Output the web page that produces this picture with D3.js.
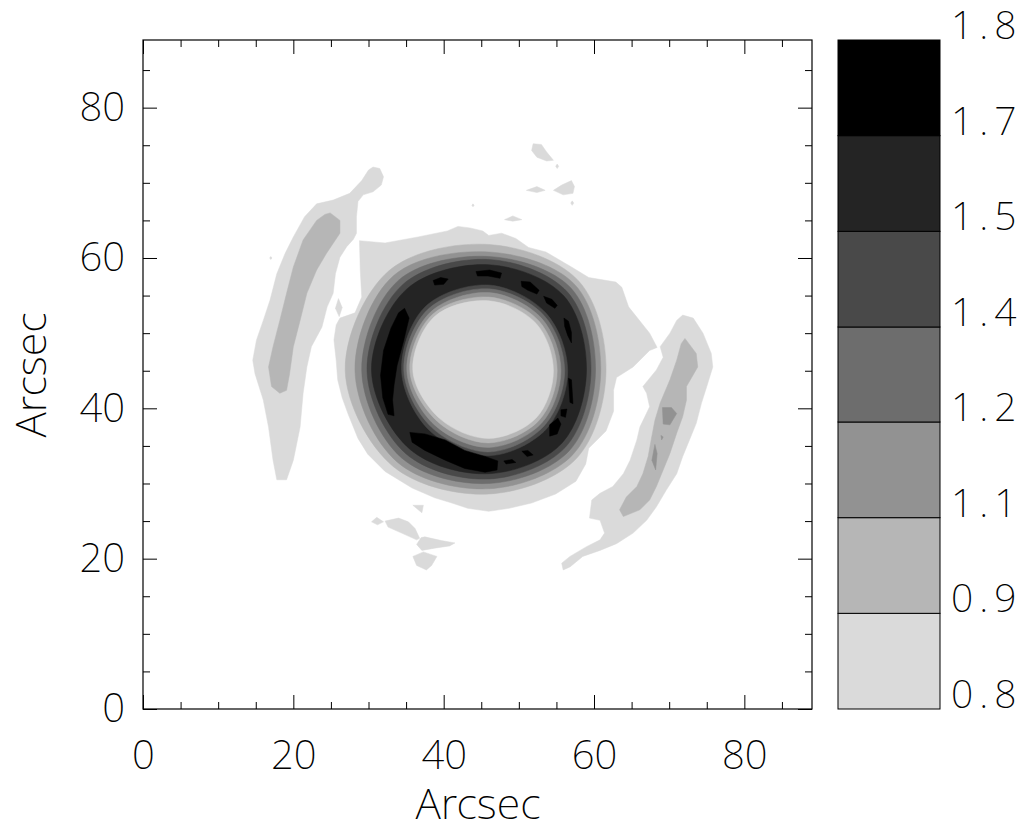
<!DOCTYPE html>
<html>
<head>
<meta charset="utf-8">
<script src="https://cdn.jsdelivr.net/npm/d3@7"></script>
<style>
  body { margin: 0; background: #fff; }
  text { font-family: "Noto Sans", sans-serif; font-weight: 200; fill: #000; }
</style>
</head>
<body>
<div id="chart"></div>
<script>
// contour levels and their grey shades (light -> black)
var levels = [0.8, 0.943, 1.086, 1.229, 1.371, 1.514, 1.657, 1.8];
var levelColors = ["#dadada", "#b6b6b6", "#929292", "#6d6d6d", "#494949", "#242424", "#000000"];
var majorTicks = [0, 20, 40, 60, 80];
var minorTicks = [5, 10, 15, 25, 30, 35, 45, 50, 55, 65, 70, 75, 85];

// ring: radii (arcsec) read at 8 directions around the centre, E then counter-clockwise
var ringCenter = [46.0, 45.0];
var ringAngles = [0, 45, 90, 135, 180, 225, 270, 315];
var ringO2 = [15.6, 16.9, 16.8, 18.8, 19.1, 18.0, 16.4, 16.5];
var ringO3 = [14.9, 16.2, 15.8, 17.9, 17.8, 17.2, 15.7, 15.8];
var ringO4 = [14.2, 15.5, 15.2, 17.0, 16.9, 16.4, 15.0, 15.1];
var ringO5 = [13.6, 14.8, 14.8, 16.2, 16.2, 15.6, 14.4, 14.4];
var ringO6 = [13.0, 14.1, 14.1, 15.4, 15.6, 14.8, 13.7, 13.7];
var ringI6 = [10.5, 10.8, 11.4, 12.0, 11.6, 11.2, 11.3, 10.9];
var ringI5 = [10.1, 10.4, 10.9, 11.5, 11.3, 10.7, 10.8, 10.4];
var ringI4 = [9.6, 9.9, 10.4, 11.0, 10.9, 10.2, 10.2, 9.9];
var ringI3 = [9.1, 9.4, 9.8, 10.6, 10.5, 9.6, 9.6, 9.4];
var ringI2 = [8.6, 8.9, 9.3, 10.2, 10.1, 9.1, 9.0, 8.9];

// level 1 (lightest) regions, [x, y] in arcsec
var ringHalo = [[28.8,62.3],[32.2,62.0],[36.6,62.8],[40.5,63.6],[41.9,64.2],[43.5,64.0],[45.2,63.6],[46.0,63.0],[47.7,63.3],[49.6,62.6],[51.3,61.4],[53.6,60.8],[57.0,58.8],[59.3,57.4],[62.9,56.8],[63.7,56.1],[64.6,53.5],[67.4,50.0],[68.4,48.1],[67.4,47.7],[65.2,45.5],[63.0,44.1],[62.6,42.4],[62.6,39.6],[61.6,37.0],[59.3,34.7],[58.9,32.6],[57.6,30.3],[54.9,28.6],[51.7,27.4],[48.7,26.7],[46.0,26.3],[43.2,26.7],[41.1,27.4],[38.8,28.1],[35.8,29.4],[32.2,31.6],[29.9,33.9],[28.6,36.0],[27.3,39.2],[26.5,41.4],[25.9,43.8],[25.7,46.4],[25.4,49.1],[25.7,51.1],[26.2,52.0],[28.2,52.7],[29.1,54.8],[28.9,58.4]];
var leftArc = [[30.6,72.1],[31.5,71.9],[32.0,70.8],[31.7,69.7],[30.6,68.8],[29.3,68.4],[28.6,67.5],[28.4,65.5],[28.4,63.3],[28.0,62.5],[27.1,61.5],[26.2,60.1],[25.6,57.9],[25.3,55.3],[24.5,53.5],[23.8,50.8],[22.4,48.2],[21.8,45.5],[21.3,42.0],[20.9,37.5],[20.0,33.1],[19.1,30.5],[17.8,30.5],[17.3,33.1],[16.7,37.5],[16.0,41.1],[14.9,44.6],[14.6,46.4],[15.1,49.1],[16.0,51.7],[16.9,54.4],[17.8,57.9],[18.9,60.6],[20.0,62.8],[21.5,65.5],[23.1,67.2],[25.3,67.7],[27.5,68.6],[29.1,70.3],[30.0,71.7]];
var rightArc = [[71.8,52.4],[73.2,52.0],[74.5,50.0],[75.6,47.3],[75.8,45.5],[75.0,42.9],[74.3,40.7],[73.6,38.0],[72.7,35.8],[71.8,33.6],[71.0,31.3],[69.6,29.1],[68.3,26.9],[67.0,25.1],[65.2,23.4],[63.0,22.0],[60.8,21.1],[58.5,20.3],[56.8,18.9],[55.9,18.5],[55.7,19.4],[56.8,20.3],[59.0,21.6],[60.8,22.5],[61.4,23.4],[60.8,25.1],[59.4,25.4],[59.7,27.8],[60.8,28.7],[62.5,29.6],[63.9,31.3],[64.8,33.1],[65.7,35.8],[66.1,37.5],[67.4,40.2],[67.0,42.0],[66.5,42.9],[68.3,45.1],[69.2,46.8],[68.8,48.2],[70.1,50.0],[71.0,51.7]];
var smallBlobs = [
  [[51.9,75.2],[53.0,75.1],[53.7,74.1],[54.6,73.0],[53.7,72.9],[52.4,73.4],[51.7,74.3]],
  [[54.6,69.0],[55.7,69.7],[57.0,70.3],[57.4,69.5],[57.2,68.6],[55.9,68.4]],
  [[51.0,69.0],[52.4,69.5],[53.5,69.0],[52.4,68.7]],
  [[48.1,65.1],[49.2,65.6],[50.4,65.1],[49.2,64.9]],
  [[55.1,72.5],[55.3,72.2],[55.1,71.9],[54.9,72.2]],
  [[57.1,67.6],[57.3,67.3],[57.1,67.0],[56.9,67.3]],
  [[43.9,67.2],[44.05,67.0],[43.9,66.8],[43.75,67.0]],
  [[17.0,60.2],[17.15,60.0],[17.0,59.8],[16.85,60.0]],
  [[30.4,24.9],[31.1,25.5],[32.0,24.9],[31.2,24.5]],
  [[32.2,25.0],[34.0,25.4],[35.3,24.9],[36.2,24.0],[36.8,22.7],[36.4,22.5],[34.4,23.4],[32.6,24.2]],
  [[37.0,22.8],[37.5,22.9],[39.7,22.4],[41.5,22.1],[40.8,21.7],[38.8,21.4],[37.1,21.1],[36.4,21.9]],
  [[35.9,20.3],[37.3,20.9],[39.1,20.3],[38.4,19.1],[37.7,18.5],[36.4,19.1]],
  [[35.9,27.1],[37.3,27.1],[37.1,26.1]],
  [[26.0,54.6],[26.5,53.4],[26.1,52.2],[25.6,53.3]]
];

// level 2 and 3 regions inside the arcs
var leftArcInner = [[24.9,66.0],[26.2,65.0],[26.2,63.3],[24.4,60.6],[23.1,58.4],[21.8,55.3],[20.9,51.7],[20.0,48.2],[19.5,44.6],[19.1,42.4],[18.2,42.0],[17.1,42.9],[16.7,45.5],[17.3,48.2],[18.2,51.7],[19.1,55.3],[20.0,58.8],[21.3,62.4],[23.1,65.0],[24.2,65.8]];
var rightArcInner = [[72.1,49.3],[73.6,47.3],[73.8,45.5],[72.3,42.9],[72.3,41.1],[71.8,38.9],[71.0,36.7],[70.1,34.0],[69.2,31.8],[68.3,29.6],[67.4,27.8],[66.1,26.5],[63.9,25.6],[63.4,26.5],[64.3,28.2],[65.7,29.6],[66.5,31.3],[67.2,33.6],[67.6,35.8],[68.1,38.4],[68.8,40.7],[70.1,43.8],[71.0,46.4],[71.6,48.6]];
var rightArcCore = [
  [[69.1,40.1],[70.3,40.1],[71.0,39.3],[70.1,37.8],[69.2,37.9]],
  [[68.1,35.2],[68.4,34.0],[68.2,31.8],[67.7,33.1]],
  [[68.9,36.4],[69.2,36.2],[69.0,35.8]]
];

// level 7 (black) patches inside the ring
var blackPatches = [
  [[34.8,53.3],[35.4,52.0],[34.7,49.1],[33.8,45.7],[33.4,43.1],[33.2,41.1],[33.4,39.0],[32.6,39.2],[31.9,41.4],[31.6,44.4],[32.0,47.7],[33.0,50.7],[34.0,52.7]],
  [[35.5,36.8],[37.5,36.6],[40.2,35.8],[42.8,34.4],[45.5,33.6],[47.2,33.0],[47.1,31.8],[45.5,31.5],[42.8,32.0],[40.2,33.1],[37.5,34.4],[35.8,35.5]],
  [[38.6,57.0],[39.6,57.4],[40.6,57.2],[40.0,56.5],[38.8,56.4]],
  [[44.3,58.2],[46.1,58.4],[47.7,58.0],[47.5,57.3],[45.9,57.6],[44.5,57.6]],
  [[50.3,56.9],[51.5,56.8],[52.7,55.7],[52.4,55.2],[51.2,55.7],[50.4,56.2]],
  [[53.3,54.9],[54.4,54.5],[55.1,53.7],[54.8,53.3],[53.7,54.0]],
  [[56.0,52.0],[56.6,51.6],[57.0,50.1],[57.0,48.7],[56.5,49.7],[56.1,50.9]],
  [[56.6,44.0],[57.0,43.8],[57.2,40.6],[56.8,40.8]],
  [[55.6,39.8],[56.4,39.9],[56.2,38.8],[55.6,39.0]],
  [[54.1,37.8],[55.2,38.7],[55.6,37.9],[55.1,36.6],[54.1,36.3]],
  [[50.4,34.3],[51.2,34.4],[51.9,33.8],[51.1,33.6]],
  [[48.0,33.0],[49.1,33.2],[49.6,32.8],[48.3,32.6]]
];

var svg = d3.select("#chart").append("svg")
  .attr("width", 1024)
  .attr("height", 833);

var x = d3.scaleLinear().domain([0, 89]).range([143, 812]);
var y = d3.scaleLinear().domain([0, 89]).range([709, 40]);

svg.append("clipPath").attr("id", "plot-clip")
  .append("rect")
  .attr("x", 143).attr("y", 40)
  .attr("width", 812 - 143).attr("height", 709 - 40);

var plot = svg.append("g").attr("clip-path", "url(#plot-clip)");

var poly = d3.line()
  .x(function(d) { return x(d[0]); })
  .y(function(d) { return y(d[1]); })
  .curve(d3.curveLinearClosed);

var smooth = d3.line()
  .x(function(d) { return x(d[0]); })
  .y(function(d) { return y(d[1]); })
  .curve(d3.curveCatmullRomClosed.alpha(0.5));

function ringPoly(radii) {
  return ringAngles.map(function(a, i) {
    var t = a * Math.PI / 180;
    return [ringCenter[0] + radii[i] * Math.cos(t), ringCenter[1] + radii[i] * Math.sin(t)];
  });
}

function fillPolys(list, color, gen) {
  plot.append("g").selectAll("path")
    .data(list)
    .enter().append("path")
    .attr("d", gen || poly)
    .attr("fill", color)
    .attr("stroke", color)
    .attr("stroke-width", 0.5);
}

// lightest level
fillPolys([ringHalo, leftArc, rightArc].concat(smallBlobs), levelColors[0]);
// level 2
fillPolys([leftArcInner, rightArcInner], levelColors[1]);
fillPolys([ringPoly(ringO2)], levelColors[1], smooth);
// level 3
fillPolys(rightArcCore, levelColors[2]);
fillPolys([ringPoly(ringO3)], levelColors[2], smooth);
// levels 4..6 of the ring
fillPolys([ringPoly(ringO4)], levelColors[3], smooth);
fillPolys([ringPoly(ringO5)], levelColors[4], smooth);
fillPolys([ringPoly(ringO6)], levelColors[5], smooth);
// inner hole, stepping back down
fillPolys([ringPoly(ringI6)], levelColors[4], smooth);
fillPolys([ringPoly(ringI5)], levelColors[3], smooth);
fillPolys([ringPoly(ringI4)], levelColors[2], smooth);
fillPolys([ringPoly(ringI3)], levelColors[1], smooth);
fillPolys([ringPoly(ringI2)], levelColors[0], smooth);
// peaks
fillPolys(blackPatches, levelColors[6]);

// axes, ticks pointing inward on all four sides
function styleAxis(g) {
  g.select(".domain").remove();
  g.selectAll(".tick line").attr("stroke", "#000").attr("stroke-width", 1);
  g.selectAll("text").style("font-size", "40px");
}

svg.append("g")
  .attr("transform", "translate(0,709)")
  .call(d3.axisBottom(x).tickValues(majorTicks).tickSize(-14).tickPadding(32).tickFormat(d3.format("d")))
  .call(styleAxis);
svg.append("g")
  .attr("transform", "translate(0,709)")
  .call(d3.axisBottom(x).tickValues(minorTicks).tickSize(-7).tickFormat(""))
  .call(styleAxis);
svg.append("g")
  .attr("transform", "translate(0,40)")
  .call(d3.axisTop(x).tickValues(majorTicks).tickSize(-14).tickFormat(""))
  .call(styleAxis);
svg.append("g")
  .attr("transform", "translate(0,40)")
  .call(d3.axisTop(x).tickValues(minorTicks).tickSize(-7).tickFormat(""))
  .call(styleAxis);

svg.append("g")
  .attr("transform", "translate(143,0)")
  .call(d3.axisLeft(y).tickValues(majorTicks).tickSize(-14).tickPadding(18).tickFormat(d3.format("d")))
  .call(styleAxis);
svg.append("g")
  .attr("transform", "translate(143,0)")
  .call(d3.axisLeft(y).tickValues(minorTicks).tickSize(-7).tickFormat(""))
  .call(styleAxis);
svg.append("g")
  .attr("transform", "translate(812,0)")
  .call(d3.axisRight(y).tickValues(majorTicks).tickSize(-14).tickFormat(""))
  .call(styleAxis);
svg.append("g")
  .attr("transform", "translate(812,0)")
  .call(d3.axisRight(y).tickValues(minorTicks).tickSize(-7).tickFormat(""))
  .call(styleAxis);

svg.append("rect")
  .attr("x", 143).attr("y", 40)
  .attr("width", 812 - 143).attr("height", 709 - 40)
  .attr("fill", "none")
  .attr("stroke", "#000")
  .attr("stroke-width", 1.2);

svg.append("text")
  .attr("x", 478).attr("y", 819)
  .attr("text-anchor", "middle")
  .style("font-size", "43px")
  .text("Arcsec");

svg.append("text")
  .attr("transform", "translate(46,375) rotate(-90)")
  .attr("text-anchor", "middle")
  .style("font-size", "43px")
  .text("Arcsec");

// colour bar
var cy = d3.scaleLinear().domain([0.8, 1.8]).range([709, 40]);
var bar = svg.append("g");
bar.selectAll("rect")
  .data(levelColors)
  .enter().append("rect")
  .attr("x", 838)
  .attr("width", 940 - 838)
  .attr("y", function(d, i) { return cy(levels[i + 1]); })
  .attr("height", function(d, i) { return cy(levels[i]) - cy(levels[i + 1]); })
  .attr("fill", function(d) { return d; })
  .attr("stroke", "#000")
  .attr("stroke-width", 1);

svg.append("g")
  .attr("transform", "translate(940,0)")
  .call(d3.axisRight(cy).tickValues(levels).tickSize(0).tickPadding(11).tickFormat(d3.format(".1f")))
  .call(function(g) {
    g.select(".domain").remove();
    g.selectAll("text").style("font-size", "39px").style("letter-spacing", "6px").attr("dy", "-0.04em");
  });
</script>
</body>
</html>
